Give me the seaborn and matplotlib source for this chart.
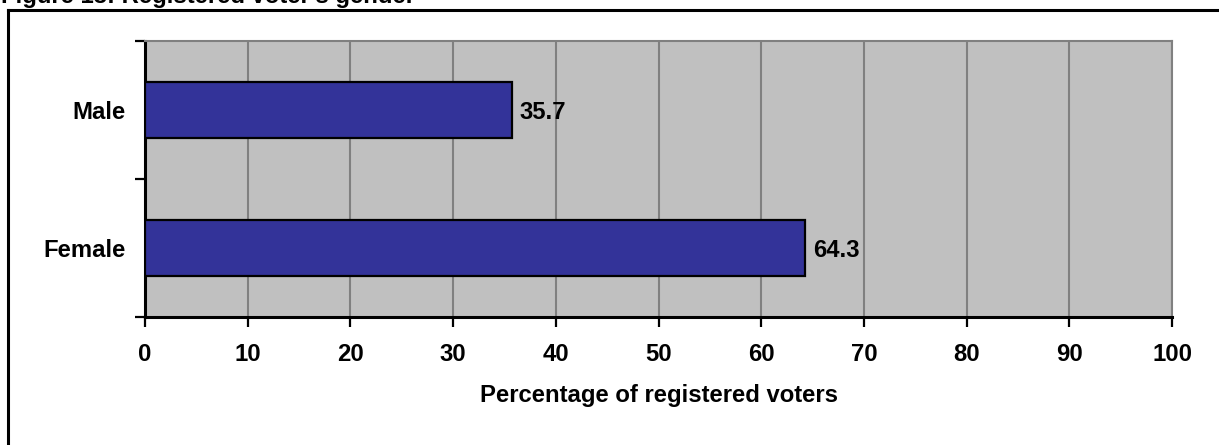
import matplotlib
matplotlib.use("Agg")
import matplotlib.pyplot as plt
from matplotlib.lines import Line2D
from matplotlib.ticker import FixedLocator
import seaborn as sns
import pandas as pd

# Registered voters by gender (percent)
genders = ["Male", "Female"]
shares = [35.7, 64.3]
x_ticks = [0, 10, 20, 30, 40, 50, 60, 70, 80, 90, 100]

sns.set_theme(style="white")
plt.rcParams["font.family"] = ["Liberation Sans", "DejaVu Sans"]
plt.rcParams["font.weight"] = "bold"
plt.rcParams["text.color"] = "black"
plt.rcParams["axes.labelcolor"] = "black"
plt.rcParams["xtick.color"] = "black"
plt.rcParams["ytick.color"] = "black"

FS = 17.2

df = pd.DataFrame({"gender": genders, "share": shares})

W, H = 1219, 445
fig = plt.figure(figsize=(W / 100, H / 100), dpi=100)
ax = fig.add_axes([145 / W, 1 - 317 / H, (1172 - 145) / W, (317 - 41) / H])

ax.set_facecolor("#C0C0C0")
sns.barplot(data=df, x="share", y="gender", order=genders, orient="h",
            color="#333399", saturation=1, width=0.4,
            edgecolor="black", linewidth=1.6, ax=ax, zorder=3)

ax.set_xlim(0, 100)
ax.set_ylim(1.5, -0.5)
ax.xaxis.set_major_locator(FixedLocator(x_ticks))
ax.set_xticklabels([str(t) for t in x_ticks], fontsize=FS, fontweight="bold", color="black")

# category labels without ticks; ticks at category boundaries
ax.set_yticks([0, 1])
ax.set_yticklabels(genders, fontsize=FS, fontweight="bold", color="black")
ax.tick_params(axis="y", which="major", length=0, pad=14)
ax.yaxis.set_minor_locator(FixedLocator([-0.5, 0.5, 1.5]))
ax.tick_params(axis="y", which="minor", length=7, width=1.6, color="black", direction="out", left=True)
ax.tick_params(axis="x", which="major", length=7, width=1.6, color="black",
               direction="out", bottom=True, pad=12)

ax.grid(False)
for t in x_ticks[1:]:
    ax.axvline(t, color="#808080", linewidth=1.5, zorder=1)

for side in ("top", "right"):
    ax.spines[side].set_color("#808080")
    ax.spines[side].set_linewidth(1.5)
for side in ("left", "bottom"):
    ax.spines[side].set_color("black")
    ax.spines[side].set_linewidth(2.2)

ax.set_ylabel("")
ax.set_xlabel("Percentage of registered voters", fontsize=FS, fontweight="bold",
              color="black", labelpad=13)

# value labels at bar ends
for i, v in enumerate(shares):
    ax.text(v + 0.8, i + 0.02, f"{v:.1f}", va="center", ha="left",
            fontsize=FS, fontweight="bold", color="black", zorder=4)

# outer frame and caption
fig.add_artist(Line2D([7.5 / W, 7.5 / W], [0, 1 - 9.5 / H], transform=fig.transFigure,
                      color="black", linewidth=2.2, solid_capstyle="projecting"))
fig.add_artist(Line2D([7.5 / W, 1], [1 - 9.5 / H, 1 - 9.5 / H], transform=fig.transFigure,
                      color="black", linewidth=2.2, solid_capstyle="projecting"))
fig.text(1 / W, 1 - 3.5 / H, "Figure 13: Registered voter's gender", ha="left", va="baseline",
         fontsize=FS, fontweight="bold", color="black")

fig.savefig("out.png", dpi=100)
